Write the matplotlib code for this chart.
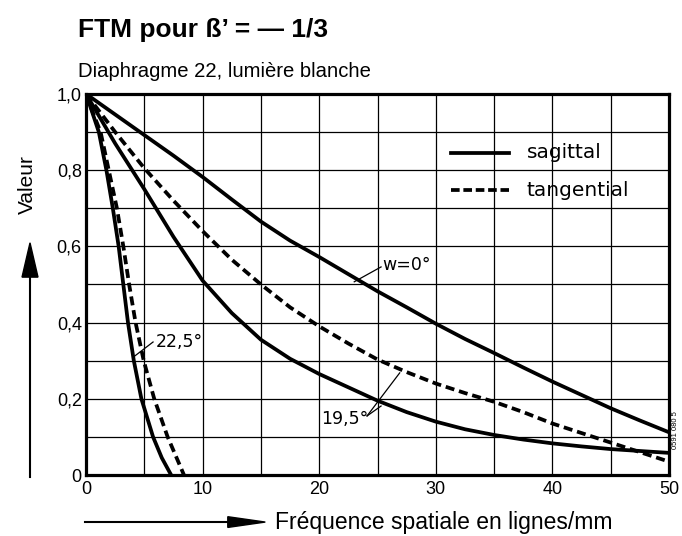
import matplotlib.pyplot as plt

plt.rcParams["font.family"] = ["Liberation Sans", "DejaVu Sans"]

# values (x in lines/mm, y = MTF value)
x_w0 = [0, 2.5, 5, 7.5, 10, 12.5, 15, 17.5, 20, 22.5, 25, 27.5, 30, 32.5, 35, 37.5, 40, 42.5, 45, 47.5, 50]
y_w0 = [1.0, 0.946, 0.892, 0.838, 0.782, 0.723, 0.665, 0.615, 0.572, 0.527, 0.482, 0.44, 0.397,
        0.357, 0.32, 0.282, 0.245, 0.21, 0.175, 0.143, 0.112]

x_195_tan = [0, 2.5, 5, 7.5, 10, 12.5, 15, 17.5, 20, 22.5, 25, 27.5, 30, 32.5, 35, 37.5, 40, 42.5, 45, 47.5, 50]
y_195_tan = [1.0, 0.9, 0.805, 0.72, 0.64, 0.565, 0.5, 0.44, 0.39, 0.345, 0.303, 0.27, 0.24,
             0.215, 0.192, 0.165, 0.135, 0.11, 0.085, 0.06, 0.035]

x_195_sag = [0, 2.5, 5, 7.5, 10, 12.5, 15, 17.5, 20, 22.5, 25, 27.5, 30, 32.5, 35, 37.5, 40, 42.5, 45, 47.5, 50]
y_195_sag = [1.0, 0.87, 0.75, 0.625, 0.51, 0.425, 0.355, 0.305, 0.265, 0.23, 0.195, 0.165, 0.14,
             0.12, 0.105, 0.093, 0.083, 0.075, 0.068, 0.063, 0.058]

x_225_sag = [0, 0.5, 1.1, 1.75, 2.3, 2.8, 3.2, 3.6, 4.1, 4.75, 5.75, 6.5, 7.3]
y_225_sag = [1.0, 0.955, 0.9, 0.8, 0.7, 0.6, 0.5, 0.4, 0.3, 0.2, 0.1, 0.045, 0.0]

x_225_tan = [0, 0.6, 1.25, 1.95, 2.65, 3.2, 3.7, 4.25, 4.95, 5.85, 7.0, 7.7, 8.4]
y_225_tan = [1.0, 0.95, 0.9, 0.8, 0.7, 0.6, 0.5, 0.4, 0.3, 0.2, 0.1, 0.05, 0.0]

x_ticks = [0, 10, 20, 30, 40, 50]
y_ticks = [0, 0.2, 0.4, 0.6, 0.8, 1.0]
y_tick_labels = ["0", "0,2", "0,4", "0,6", "0,8", "1,0"]
legend_labels = ["sagittal", "tangential"]

fig = plt.figure(figsize=(6.82, 5.36), dpi=100)
ax = fig.add_axes([0.1261, 0.1138, 0.855, 0.711])

lw = 2.7
dash = (0, (2.4, 1.3))
ax.plot(x_w0, y_w0, color="black", lw=lw)
ax.plot(x_195_tan, y_195_tan, color="black", lw=lw, linestyle=dash)
ax.plot(x_195_sag, y_195_sag, color="black", lw=lw)
ax.plot(x_225_sag, y_225_sag, color="black", lw=lw)
ax.plot(x_225_tan, y_225_tan, color="black", lw=lw, linestyle=dash)

ax.set_xlim(0, 50)
ax.set_ylim(0, 1.0)
# grid every 5 lines/mm and every 0.1, labels every 10 and 0.2
ax.set_xticks([v / 2 for v in range(0, 101, 10)], minor=True)
ax.set_yticks([v / 20 for v in range(0, 21, 2)], minor=True)
ax.set_xticks(x_ticks)
ax.set_xticklabels([str(v) for v in x_ticks])
ax.set_yticks(y_ticks)
ax.set_yticklabels(y_tick_labels)
ax.grid(True, which="both", color="black", lw=0.9)
ax.tick_params(which="both", length=0, labelsize=13)
ax.tick_params(axis="x", pad=4)
ax.tick_params(axis="y", pad=3)
for s in ax.spines.values():
    s.set_linewidth(2.3)

# legend drawn inside the plot area
ax.plot([31.3, 36.3], [0.846, 0.846], color="black", lw=lw)
ax.plot([31.3, 36.3], [0.747, 0.747], color="black", lw=lw, linestyle=(0, (2.3, 1.0)))
ax.text(37.8, 0.846, legend_labels[0], fontsize=14.5, va="center", family="DejaVu Sans")
ax.text(37.8, 0.747, legend_labels[1], fontsize=14.5, va="center", family="DejaVu Sans")

# curve annotations
thin = dict(color="black", lw=0.9)
ax.text(25.4, 0.551, "w=0°", fontsize=12.5, va="center", ha="left", family="DejaVu Sans")
ax.plot([23.0, 25.3], [0.507, 0.546], **thin)
ax.text(6.0, 0.349, "22,5°", fontsize=12.5, va="center", ha="left", family="DejaVu Sans")
ax.plot([4.17, 5.75], [0.312, 0.349], **thin)
ax.text(20.2, 0.147, "19,5°", fontsize=12.5, va="center", ha="left", family="DejaVu Sans")
ax.plot([24.1, 26.9], [0.155, 0.268], **thin)
ax.plot([24.1, 25.3], [0.155, 0.181], **thin)

fig.text(0.991, 0.198, "0591 080 5", fontsize=5.5, rotation=90, va="center", ha="center")

# titles
fig.text(0.114, 0.944, "FTM pour ß’ = — 1/3", fontsize=19, fontweight="bold", va="center")
fig.text(0.114, 0.866, "Diaphragme 22, lumière blanche", fontsize=14.6, va="center")

# axis labels with arrows
fig.text(0.04, 0.655, "Valeur", fontsize=15, rotation=90, va="center", ha="center")
fig.add_artist(plt.Line2D([0.044, 0.044], [0.11, 0.49], color="black", lw=1.5))
fig.patches.append(plt.Polygon([[0.0323, 0.483], [0.0557, 0.483], [0.044, 0.547]],
                               closed=True, color="black", transform=fig.transFigure))
fig.add_artist(plt.Line2D([0.125, 0.336], [0.026, 0.026], color="black", lw=1.5))
fig.patches.append(plt.Polygon([[0.334, 0.016], [0.334, 0.036], [0.389, 0.026]],
                               closed=True, color="black", transform=fig.transFigure))
fig.text(0.403, 0.026, "Fréquence spatiale en lignes/mm", fontsize=16.5, va="center")

fig.savefig("out.png", dpi=100, facecolor="white")
